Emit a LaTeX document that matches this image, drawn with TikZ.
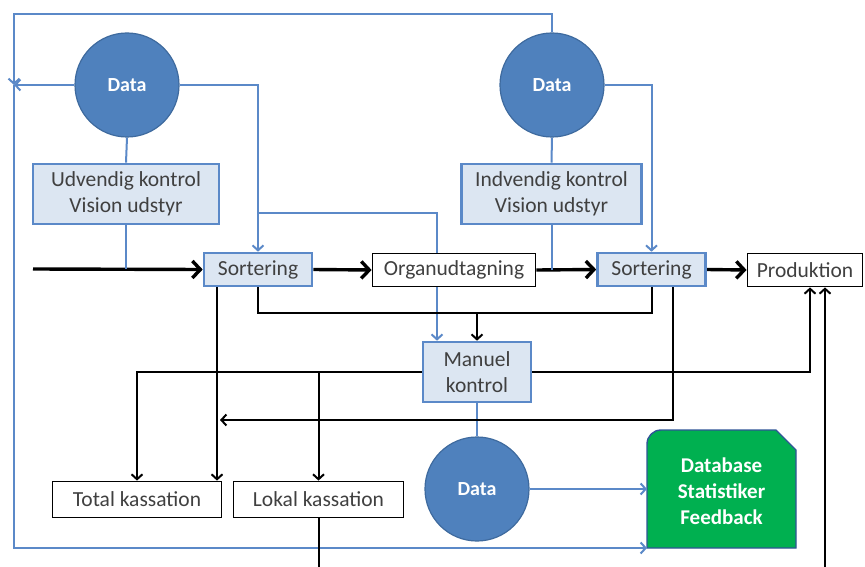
\documentclass[tikz,border=0pt]{standalone}
\usepackage{fontspec}
\setmainfont{Carlito}
\usetikzlibrary{arrows.meta,calc}
\pgfdeclarelayer{bg}
\pgfdeclarelayer{edges}
\pgfsetlayers{bg,edges,main}
\definecolor{lnblue}{HTML}{5B89C8}
\definecolor{circfill}{HTML}{4F81BD}
\definecolor{circdraw}{HTML}{3E6A9E}
\definecolor{boxfill}{HTML}{DCE6F2}
\definecolor{dbgreen}{HTML}{00B050}
\definecolor{dbdraw}{HTML}{2F5597}
\definecolor{txt}{HTML}{404040}
\begin{document}
\begin{tikzpicture}[x=1pt,y=-1pt,
  every node/.style={font=\fontsize{21.5}{26}\selectfont, text=txt, align=center, inner sep=0pt},
  bluebox/.style={draw=lnblue, fill=boxfill, line width=2.6pt},
  blackbox/.style={draw=black, fill=white, line width=1.8pt},
  datacirc/.style={circle, draw=circdraw, fill=circfill, line width=1.2pt, minimum size=104, text=white, font=\fontsize{20}{26}\selectfont\bfseries},
  bl/.style={draw=lnblue, line width=2pt},
  bk/.style={draw=black, line width=2pt},
  thk/.style={draw=black, line width=3.4pt, -{Straight Barb[length=8pt,width=17pt]}},
  btip/.style={-{Straight Barb[length=5pt,width=11pt]}},
]
\useasboundingbox (0,0) rectangle (865,567);

% nodes
\node[datacirc] (d1) at (127,85) {Data};
\node[bluebox, minimum width=186, minimum height=60] (udv) at (126,194) {Udvendig kontrol\\Vision udstyr};
\node[datacirc] (d2) at (552,85) {Data};
\node[bluebox, minimum width=180, minimum height=60] (indv) at (551.5,194) {Indvendig kontrol\\Vision udstyr};
\node[bluebox, minimum width=108, minimum height=33] (s1) at (258,269.5) {Sortering};
\node[blackbox, minimum width=163, minimum height=33] (org) at (454,270) {Organudtagning};
\node[bluebox, minimum width=108, minimum height=33] (s2) at (651.5,269.5) {Sortering};
\node[blackbox, minimum width=115, minimum height=33] (prod) at (805,270) {Produktion};
\node[bluebox, minimum width=108, minimum height=60] (man) at (477,372) {Manuel\\kontrol};
\node[blackbox, minimum width=169, minimum height=36] (tot) at (137,499.5) {Total kassation};
\node[blackbox, minimum width=170, minimum height=36] (lok) at (318.5,499.5) {Lokal kassation};
\node[datacirc] (d3) at (477,489) {Data};
\node[minimum width=149, minimum height=118, text=white, font=\fontsize{21}{26}\selectfont\bfseries] (db) at (721.5,491) {Database\\Statistiker\\Feedback};

\begin{pgfonlayer}{bg}
\draw[fill=dbgreen, draw=dbdraw, line width=1.4pt]
  (647,548) [rounded corners=14pt] -- (647,430) [sharp corners]
  -- (776,430) -- (796,450) -- (796,548) -- cycle;
\end{pgfonlayer}

% coordinates
\coordinate (in) at (33,269);
\coordinate (ftl) at (14,14);
\coordinate (farr) at (14,85);
\coordinate (fbl) at (14,548);
\coordinate (dbsw) at (647,548);
\coordinate (dbw) at (647,489);
\coordinate (br) at (258,213);
\coordinate (mid) at (477,313);
\coordinate (ret) at (220,420);
\coordinate (pin) at (825,567);
\coordinate (lokout) at (318.5,567);
\coordinate (s1a) at (217,287);
\coordinate (s2a) at (673,287);

\begin{pgfonlayer}{edges}
% main flow
\draw[thk] (in) -- (s1.west);
\draw[thk] (s1.east) -- (org.west);
\draw[thk] (org.east) -- (s2.west);
\draw[thk] (s2.east) -- (prod.west);

% blue connectors
\draw[bl] (d1.south) -- (udv.north);
\draw[bl] (udv.south) -- (udv.south |- in);
\draw[bl] (d2.south) -- (indv.north);
\draw[bl] (indv.south) -- (indv.south |- org.east);
\draw[bl, btip] (d2.north) |- (ftl) -- (farr);
\draw[bl, btip] (farr) -- (fbl) -- (dbsw);
\draw[bl, btip] (d1.west) -- (farr);
\draw[bl, btip] (d1.east) -| (s1.north);
\draw[bl, btip] (br) -| ($(man.north)+(-40,0)$);
\draw[bl, btip] (d2.east) -| (s2.north);
\draw[bl] (man.south) -- (d3.north);
\draw[bl, btip] (d3.east) -- (dbw);

% black connectors
\draw[bk] (s1.south) |- (mid) -| (s2.south);
\draw[bk, btip] (mid) -- (man.north);
\draw[bk, btip] (s1a) -- (s1a |- tot.north);
\draw[bk, btip] (man.west) -| (tot.north);
\draw[bk, btip] (man.west -| lok.north) -- (lok.north);
\draw[bk, btip] (man.east) -| ($(prod.south)+(5,0)$);
\draw[bk, btip] (pin) -- ($(prod.south)+(20,0)$);
\draw[bk, btip] (s2a) |- (ret);
\draw[bk] (lok.south) -- (lokout);
\end{pgfonlayer}
\end{tikzpicture}
\end{document}
